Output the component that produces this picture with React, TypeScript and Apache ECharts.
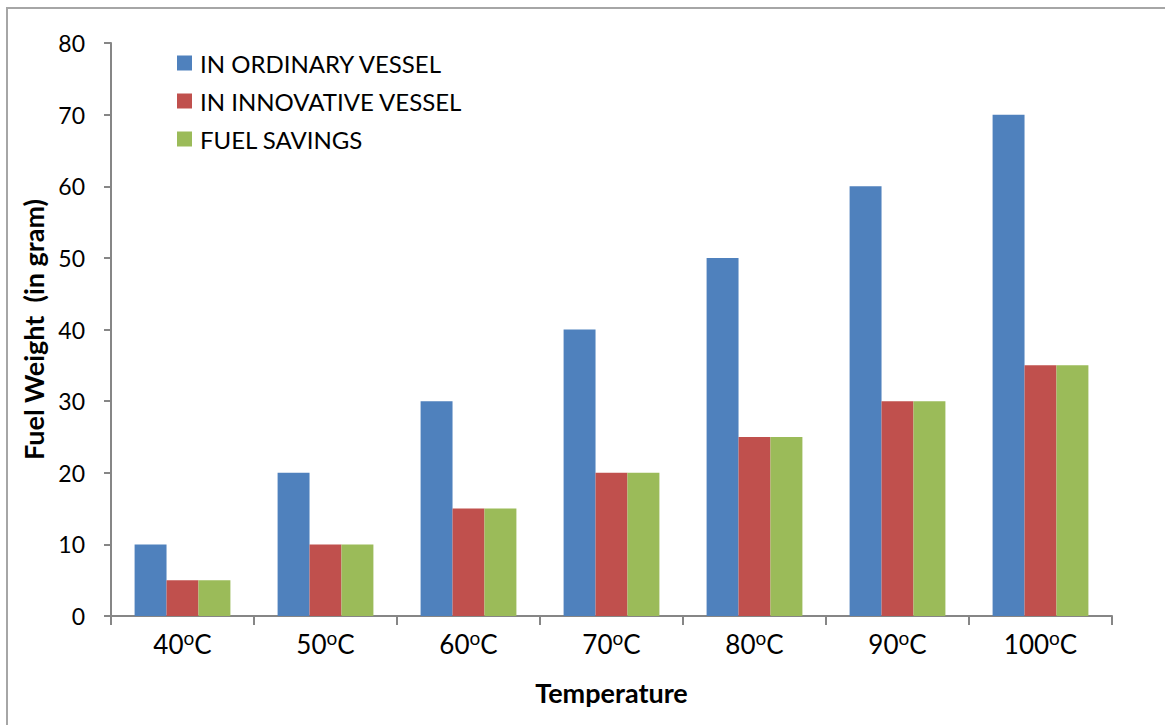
import React, { useEffect, useRef } from "react";
import * as echarts from "echarts";

const categories = ["40", "50", "60", "70", "80", "90", "100"];
const ordinary = [10, 20, 30, 40, 50, 60, 70];
const innovative = [5, 10, 15, 20, 25, 30, 35];
const savings = [5, 10, 15, 20, 25, 30, 35];
const seriesNames = ["IN ORDINARY VESSEL", "IN INNOVATIVE VESSEL", "FUEL SAVINGS"];
const colors = ["#4F81BD", "#C0504D", "#9BBB59"];

const FONT = "Lato";

export default function App() {
  const ref = useRef<HTMLDivElement>(null);
  useEffect(() => {
    document.body.style.margin = "0";
    const chart = echarts.init(ref.current!, null, { renderer: "svg" });
    const axisGrey = "#868686";
    chart.setOption({
      animation: false,
      textStyle: { fontFamily: FONT, color: "#000" },
      graphic: [
        {
          type: "rect",
          shape: { x: 7, y: 8, width: 1300, height: 900 },
          style: { fill: "none", stroke: "#a6a6a6", lineWidth: 2 },
          silent: true,
        },
      ],
      legend: {
        orient: "vertical",
        left: 172,
        top: 46,
        itemWidth: 15,
        itemHeight: 15,
        itemGap: 14,
        icon: "rect",
        textStyle: {
          fontFamily: FONT,
          fontSize: 24,
          color: "#000",
          lineHeight: 24,
          padding: [0, 0, 0, 3],
        },
        data: seriesNames,
      },
      grid: { left: 111, right: 53, top: 43, bottom: 109, containLabel: false },
      xAxis: {
        type: "category",
        data: categories,
        name: "Temperature",
        nameLocation: "middle",
        nameGap: 63,
        nameTextStyle: { fontFamily: FONT, fontSize: 27, fontWeight: "bold", color: "#000" },
        axisLine: { lineStyle: { color: axisGrey, width: 2 } },
        axisTick: { show: true, interval: 0, length: 9, lineStyle: { color: axisGrey, width: 2 } },
        axisLabel: {
          interval: 0,
          margin: 15,
          fontFamily: FONT,
          fontSize: 26,
          color: "#000",
          formatter: (v: string) => `{n|${v}}{sup|o}{n|C}`,
          rich: {
            n: { fontFamily: FONT, fontSize: 26, color: "#000", lineHeight: 26 },
            sup: {
              fontFamily: FONT,
              fontSize: 19,
              color: "#000",
              lineHeight: 19,
              padding: [0, 0, 13, 0],
            },
          },
        },
      },
      yAxis: {
        type: "value",
        min: 0,
        max: 80,
        interval: 10,
        name: "Fuel Weight  (in gram)",
        nameLocation: "middle",
        nameRotate: 90,
        nameGap: 63,
        nameTextStyle: { fontFamily: FONT, fontSize: 27, fontWeight: "bold", color: "#000" },
        axisLine: { show: true, lineStyle: { color: axisGrey, width: 2 } },
        axisTick: { show: true, length: 7, lineStyle: { color: axisGrey, width: 2 } },
        splitLine: { show: false },
        axisLabel: { margin: 26, fontFamily: FONT, fontSize: 23, color: "#000" },
      },
      series: [ordinary, innovative, savings].map((d, i) => ({
        type: "bar",
        name: seriesNames[i],
        data: d,
        itemStyle: { color: colors[i] },
        barGap: "0%",
        barCategoryGap: "33%",
      })),
    });
    return () => chart.dispose();
  }, []);
  return (
    <div
      ref={ref}
      style={{ position: "absolute", left: 0, top: 0, width: 1165, height: 725, background: "#fff" }}
    />
  );
}
